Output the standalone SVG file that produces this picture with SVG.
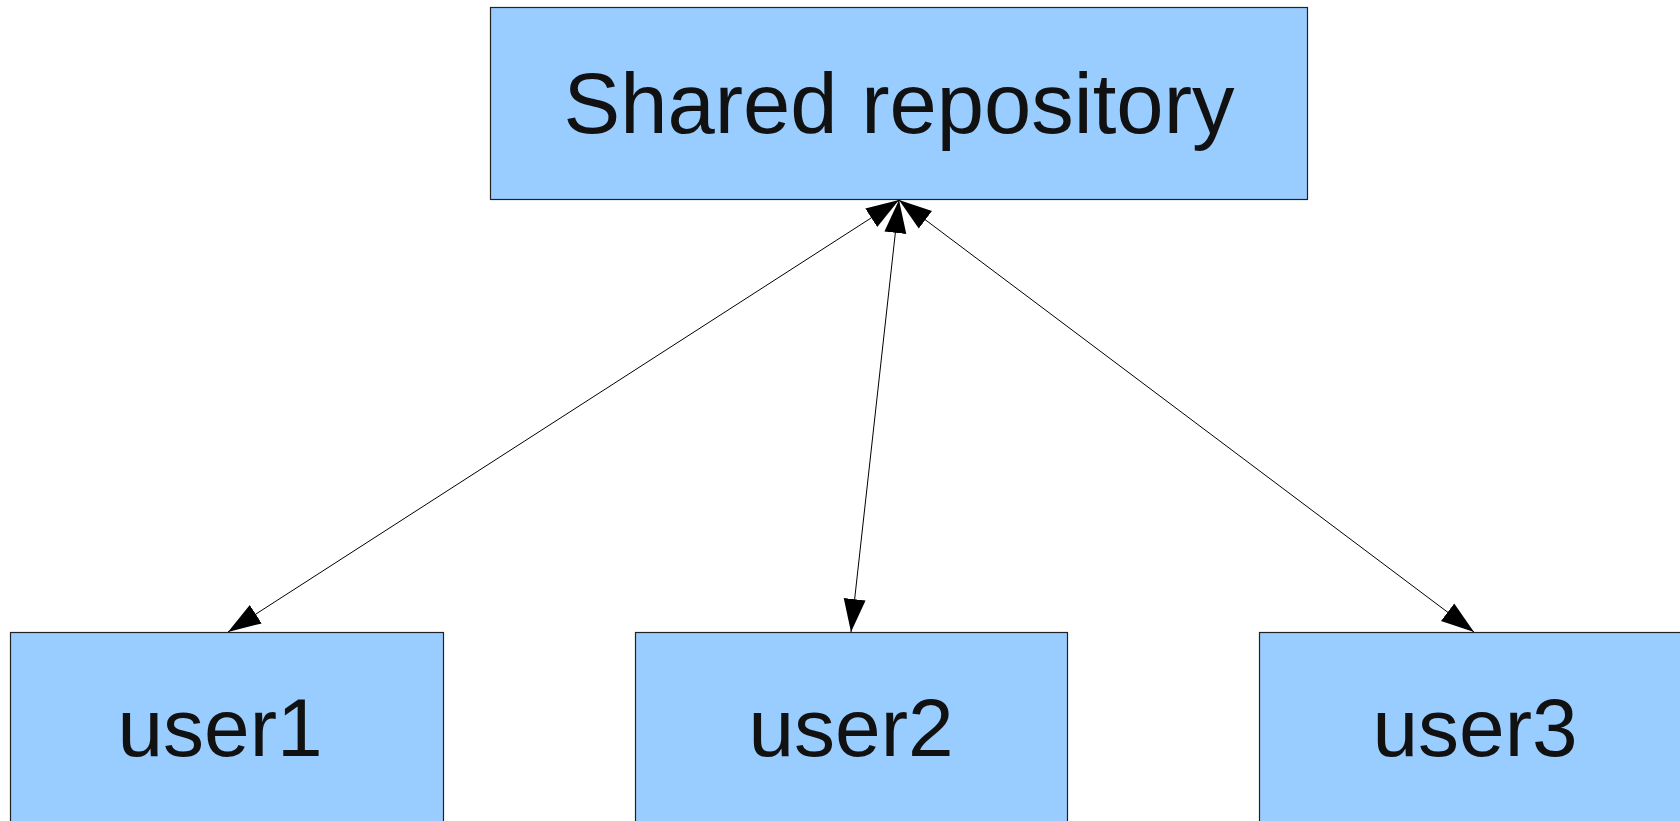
<svg xmlns="http://www.w3.org/2000/svg" width="1680" height="821" viewBox="0 0 1680 821">
<style>
.box{fill:#99ccff;stroke:#222;stroke-width:1.2}
.lbl{font-family:"Liberation Sans",Arial,sans-serif;font-size:82px;fill:#111;text-anchor:middle}
.big{font-size:85px}
.conn{stroke:#000;stroke-width:1;fill:none;marker-start:url(#ah);marker-end:url(#ah)}
</style>
<defs>
<marker id="ah" markerUnits="userSpaceOnUse" markerWidth="34" markerHeight="24" refX="33" refY="11" orient="auto-start-reverse" viewBox="0 0 34 22">
<path d="M0,0 L33,11 L0,22 Z" fill="#000"/>
</marker>
</defs>
<rect width="1680" height="821" fill="#fff"/>
<g id="connectors">
<line class="conn" x1="899" y1="200" x2="228" y2="632"/>
<line class="conn" x1="899" y1="200" x2="851" y2="632"/>
<line class="conn" x1="899" y1="200" x2="1474" y2="632"/>
</g>
<g id="shared">
<rect class="box" x="490.5" y="7.5" width="817" height="192"/>
<text class="lbl big" x="899" y="133">Shared repository</text>
</g>
<g id="user1">
<rect class="box" x="10.5" y="632.5" width="433" height="200"/>
<text class="lbl" x="220" y="756">user1</text>
</g>
<g id="user2">
<rect class="box" x="635.5" y="632.5" width="432" height="200"/>
<text class="lbl" x="851" y="756">user2</text>
</g>
<g id="user3">
<rect class="box" x="1259.5" y="632.5" width="432" height="200"/>
<text class="lbl" x="1475" y="756">user3</text>
</g>
</svg>
